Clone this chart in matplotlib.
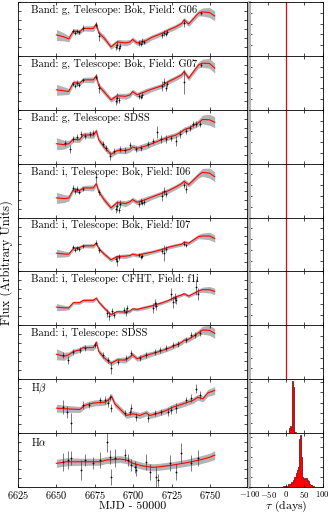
import matplotlib
matplotlib.use("Agg")
import matplotlib.pyplot as plt
from matplotlib.ticker import MultipleLocator, MaxNLocator, NullFormatter

plt.rcParams['font.family'] = ['cmr10', 'DejaVu Serif']
plt.rcParams['mathtext.fontset'] = 'cm'
plt.rcParams['axes.formatter.use_mathtext'] = True

# panel labels
labels = ["Band: g, Telescope: Bok, Field: G06",
          "Band: g, Telescope: Bok, Field: G07",
          "Band: g, Telescope: SDSS",
          "Band: i, Telescope: Bok, Field: I06",
          "Band: i, Telescope: Bok, Field: I07",
          "Band: i, Telescope: CFHT, Field: f1i",
          "Band: i, Telescope: SDSS",
          r"H$\beta$",
          r"H$\alpha$"]

# continuum model (red line + grey band), shared time knots
knot_t = [6650, 6655, 6658, 6661, 6665, 6667.5, 6674, 6676, 6677.5, 6681, 6685.5, 6689.5,
          6695, 6698, 6699.5, 6702.5, 6708, 6712, 6718.5, 6723, 6727.5, 6731.5, 6733,
          6736, 6742.5, 6745, 6749.5, 6753]
knot_sig = [5.5, 4, 3, 2.5, 2.5, 2.5, 3, 2.5, 2.5, 3, 2.5, 2.5, 3, 2.5, 2.5, 2.5, 3, 2.5,
            2.5, 2.5, 2.5, 2.5, 2.5, 2.5, 3, 4, 5, 5]
g06_model = [21, 19, 17, 25, 24, 27.5, 27.5, 32, 23, 18, 9, 14, 13, 14, 16.5, 13, 15, 18.5,
             22.5, 26, 29, 32.5, 36, 32, 43, 44, 43.5, 40]
g07_model = [20, 19, 18.3, 27.3, 26.5, 30, 30, 34, 24, 18, 10, 14, 13.5, 15, 18.3, 15, 18.3,
             20.7, 24, 28.3, 31.7, 35, 38.3, 31.7, 45, 46.7, 46.5, 41.7]
gsdss_model = [20, 19, 20, 24.3, 24, 28.7, 28.7, 32.7, 24, 17, 9.3, 13, 13.3, 14.5, 16.7,
               15.3, 17.7, 20, 24, 26.5, 28.5, 32, 34, 35.5, 41, 44.3, 44, 41.5]
i06_model = [19.7, 19, 19.5, 28, 27, 29.7, 29.7, 34, 26, 18, 9.7, 15, 14, 16, 18, 15.3, 18,
             20.5, 24.2, 27, 30.5, 34, 36.3, 33, 42.5, 45.3, 44.5, 41]
i07_model = [18.3, 17.5, 17.3, 23, 24, 25.7, 25.7, 28.3, 23, 17.5, 11.7, 15, 15.3, 16, 17.3,
             16.3, 18, 19.3, 22, 24.3, 26, 27.3, 29.3, 28.3, 35, 35.5, 35.5, 33]
f1i_model = [18.3, 17.5, 17.5, 22.7, 22.7, 25, 25, 27.3, 23.5, 17.5, 10.7, 13.7, 13.3, 14.5,
             16.5, 16, 18, 19.5, 22.5, 25, 28.5, 30.5, 31.7, 29.3, 34.5, 35.7, 35.7, 34]
isdss_model = [25, 23, 24.5, 27.7, 29.3, 31.7, 31.7, 37, 28, 21.5, 16, 19.3, 19.3, 22.5, 24.5,
               20.5, 23.7, 25.5, 28.5, 31, 34, 37, 39, 40, 46.5, 49.3, 49, 46]
band_scale = [1.0, 1.0, 1.1, 1.0, 0.75, 0.65, 1.0]

# line models
hb_t = [6650, 6656.6, 6665.2, 6668.5, 6671.7, 6675, 6681.5, 6684.7, 6685.8, 6688, 6692.3,
        6695.5, 6699.8, 6704.2, 6708.5, 6710.7, 6715, 6721.5, 6725.8, 6732.3, 6738.8, 6742,
        6745.3, 6748.5, 6753]
hb_model = [25, 24.3, 23.7, 27.7, 29.3, 30.3, 31, 34.3, 37, 29.3, 22.7, 17.7, 19.3, 17.7,
            20.3, 17.7, 19.3, 22.7, 26, 29.3, 32.7, 36, 34.3, 40.3, 42.7]
hb_sig = [4, 3.5, 3, 3, 3, 3, 3, 3, 3, 3, 3, 3, 3, 3, 3, 3, 3, 3, 3, 3, 3, 3, 3, 3.5, 4]
ha_t = [6650, 6656.6, 6667.4, 6678.2, 6682.6, 6691.2, 6695.5, 6699.8, 6706.3, 6712.8,
        6717.2, 6725.8, 6734.5, 6743.1, 6749.6, 6753]
ha_model = [23.7, 25.3, 25.3, 25.3, 27, 28, 27, 23.7, 21, 19.7, 20.3, 22, 24.3, 27, 29.7, 32]
ha_sig = [4, 4, 3.5, 3.5, 3.5, 3.5, 3.5, 3.5, 3.5, 3.5, 3.5, 3.5, 3.5, 4, 4, 4.5]

# observed points: time, flux, error
g06_t = [6661, 6662, 6663.5, 6665, 6667, 6676, 6678, 6688.5, 6689.5, 6690.5, 6691.5, 6704,
         6705, 6706, 6707, 6719, 6720, 6721, 6722, 6733, 6744]
g06_f = [25, 23, 25, 24, 28, 31, 20, 9, 11, 8, 10, 13, 12, 15, 14, 21, 23, 22, 24, 33, 43]
g06_e = [2, 2, 2, 2, 3, 3, 5, 3, 4, 3, 3, 3, 2, 3, 2, 3, 3, 2, 2, 4, 2]

g07_t = [6661, 6662, 6663.5, 6665, 6667, 6676, 6678, 6688.5, 6689.5, 6690.5, 6704, 6705,
         6706, 6719, 6720, 6721, 6722, 6733, 6744]
g07_f = [26, 24, 27, 25, 30, 33, 22, 9, 12, 10, 14, 13, 15, 24, 28, 22, 26, 28, 45]
g07_e = [2, 2, 3, 2, 2, 3, 5, 4, 5, 3, 3, 2, 3, 5, 4, 3, 3, 12, 2]

gsdss_t = [6655.5, 6658.7, 6661, 6663.1, 6666.3, 6668.5, 6671.7, 6673.9, 6680.4, 6682.5,
           6684.7, 6687.3, 6691.2, 6694.4, 6697.7, 6702, 6705.3, 6709.6, 6712.8, 6715.6,
           6718.2, 6721.5, 6724.7, 6728, 6730.1, 6734.5, 6736.6, 6738.8, 6740.9, 6743.1]
gsdss_f = [21, 15, 24.3, 26.7, 29.3, 27.7, 29.3, 31, 19.3, 16, 7.7, 12.7, 14.3, 13.3, 18.7,
           14.3, 16, 19.3, 22.7, 32, 24.3, 25, 26, 22.7, 29.3, 32.7, 36, 39.3, 40, 39.3]
gsdss_e = [3, 4, 3, 3, 3, 3, 3, 3, 3, 3, 4, 3, 3, 3, 3, 3, 3, 3, 3, 6, 4, 4, 3, 5, 4, 3, 3,
           3, 3, 3]

i06_t = [6661, 6662, 6663.5, 6665, 6667, 6676, 6678, 6688.5, 6689.5, 6690.5, 6691.5, 6704,
         6705, 6706, 6707, 6719, 6720, 6721, 6733, 6734.5]
i06_f = [30, 27, 29, 26, 29, 41, 26, 9, 12, 8, 14, 14, 17, 15, 16, 22, 27, 24, 33, 29]
i06_e = [3, 3, 3, 2, 2, 5, 3, 4, 5, 3, 4, 3, 3, 2, 3, 5, 4, 3, 3, 4]

i07_t = [6661, 6662, 6663.5, 6665, 6667, 6676, 6678, 6688.5, 6689.5, 6690.5, 6704, 6705,
         6706, 6719, 6720, 6721, 6733, 6734.5]
i07_f = [24, 21, 23, 22, 25, 29, 21, 12, 10, 14, 16, 14, 15, 20, 18, 22, 28, 26]
i07_e = [2, 2, 2, 2, 2, 3, 3, 3, 5, 3, 2, 2, 2, 3, 8, 3, 3, 2]

f1i_t = [6683, 6684.5, 6686, 6687.3, 6693.8, 6695, 6696, 6712.8, 6713.9, 6715, 6724.7,
         6725.8, 6726.9, 6728, 6740.9, 6742]
f1i_f = [12, 9, 14, 10, 15, 13, 17, 17, 22, 19, 31, 23, 27, 25, 38, 31]
f1i_e = [4, 4, 3, 3, 3, 4, 3, 5, 4, 4, 6, 6, 5, 4, 8, 6]

isdss_t = [6654.4, 6657.7, 6661, 6665.3, 6668.5, 6675, 6680.4, 6683.6, 6685.8, 6690.1,
           6695.5, 6698.8, 6704.2, 6708.5, 6713.9, 6717.2, 6721.5, 6725.8, 6729.1, 6734.5,
           6737.7, 6739.9, 6743.1]
isdss_f = [24.3, 19.3, 27.7, 29.3, 31, 34.3, 24.3, 19.3, 11, 17.7, 21, 26, 21, 24.3, 27.7,
           29.3, 31, 34.3, 35, 39.3, 44.3, 44.3, 46]
isdss_e = [3, 4, 3, 3, 3, 3, 3, 3, 6, 3, 3, 3, 3, 3, 3, 3, 3, 3, 3, 3, 3, 3, 3]

hb_pt = [6654.4, 6656.6, 6659.2, 6667.4, 6671.3, 6678.2, 6681.5, 6683.6, 6684.7, 6685.8,
         6694.4, 6697.7, 6698.7, 6702, 6709.6, 6714, 6718.3, 6722.6, 6724.7, 6728, 6734.5,
         6737.7, 6741, 6743.1]
hb_pf = [26.3, 21.3, 9.7, 28, 28, 33, 33, 29.7, 36.3, 24.7, 19.7, 21.3, 24.7, 16.3, 14.7,
         19.7, 21.3, 21.3, 23, 24.7, 33, 34.7, 44.7, 38]
hb_pe = [7, 6, 10, 4, 3, 3, 4, 4, 3, 4, 3, 3, 4, 4, 4, 3, 3, 4, 4, 5, 3, 4, 5, 4]

ha_pt = [6654.4, 6657.6, 6659.8, 6666.3, 6668.5, 6673.9, 6678.2, 6683, 6684.7, 6685.8,
         6688, 6694.4, 6696.6, 6698.7, 6700.9, 6702, 6708.5, 6710.7, 6715, 6716.1, 6723.7,
         6728, 6731.2, 6737.7, 6742]
ha_pf = [25.3, 27, 28.7, 17, 27, 23.7, 27, 45.3, 30.3, 10.3, 28.7, 32, 27, 22, 20.3, 17,
         25.3, 15.3, 10.3, 7, 23.7, 15.3, 33.7, 23.7, 28.7]
ha_pe = [9, 9, 7, 10, 6, 6, 8, 10, 7, 8, 9, 6, 6, 6, 6, 6, 8, 8, 10, 6, 8, 8, 10, 8, 8]

# lag posteriors
hb_edges = [4, 8, 10, 12, 14, 16, 18, 20, 22, 26, 30]
hb_counts = [0.3, 5, 7, 6, 4, 51, 45, 2, 1, 0.3]
ha_edges = [-30, -10, 0, 6, 12, 18, 22, 26, 30, 33, 36, 38, 40, 42, 44, 47, 50, 53, 56,
            59, 62, 66, 70, 76, 85]
ha_counts = [0.3, 0.6, 1.2, 3, 5, 7, 10, 14, 17, 20, 48, 52, 30, 14, 10, 9, 8, 9, 7, 6, 3,
             2, 1, 0.3]

cont_models = [g06_model, g07_model, gsdss_model, i06_model, i07_model, f1i_model, isdss_model]
cont_points = [(g06_t, g06_f, g06_e), (g07_t, g07_f, g07_e), (gsdss_t, gsdss_f, gsdss_e),
               (i06_t, i06_f, i06_e), (i07_t, i07_f, i07_e), (f1i_t, f1i_f, f1i_e),
               (isdss_t, isdss_f, isdss_e)]

fig = plt.figure(figsize=(3.31, 5.15), dpi=100)
top = 1 - 2 / 515
bottom = 1 - 487 / 515
h = (top - bottom) / 9
lx, lw = 18 / 331, 229 / 331
rx, rw = 249 / 331, 73.5 / 331

for i in range(9):
    y0 = top - (i + 1) * h
    ax = fig.add_axes([lx, y0, lw, h])
    axr = fig.add_axes([rx, y0, rw, h])

    if i < 7:
        model = cont_models[i]
        sig = [s * band_scale[i] for s in knot_sig]
        ax.fill_between(knot_t, [m - s for m, s in zip(model, sig)],
                        [m + s for m, s in zip(model, sig)], color='#b4b4b4', lw=0)
        ax.plot(knot_t, model, color='red', lw=0.8)
        pt, pf, pe = cont_points[i]
        axr.axvline(0, color='red', lw=0.9)
    elif i == 7:
        ax.fill_between(hb_t, [m - s for m, s in zip(hb_model, hb_sig)],
                        [m + s for m, s in zip(hb_model, hb_sig)], color='#b4b4b4', lw=0)
        ax.plot(hb_t, hb_model, color='red', lw=0.8)
        pt, pf, pe = hb_pt, hb_pf, hb_pe
        axr.stairs(hb_counts, hb_edges, fill=True, facecolor='red', edgecolor='#600000', lw=0.5)
        axr.set_ylim(0, 53)
    else:
        ax.fill_between(ha_t, [m - s for m, s in zip(ha_model, ha_sig)],
                        [m + s for m, s in zip(ha_model, ha_sig)], color='#b4b4b4', lw=0)
        ax.plot(ha_t, ha_model, color='red', lw=0.8)
        pt, pf, pe = ha_pt, ha_pf, ha_pe
        axr.stairs(ha_counts, ha_edges, fill=True, facecolor='red', edgecolor='#600000', lw=0.5)
        axr.set_ylim(0, 54)

    ax.errorbar(pt, pf, yerr=pe, fmt='o', ms=1.3, mew=0, color='k', ecolor='#333333',
                elinewidth=0.45, capsize=0.6, capthick=0.45)
    ax.set_xlim(6625, 6774)
    ax.set_ylim(0, 54)
    ax.text(0.055, 0.95, labels[i], transform=ax.transAxes, ha='left', va='top', fontsize=7.6)

    ax.xaxis.set_major_locator(MultipleLocator(25))
    ax.yaxis.set_major_locator(MultipleLocator(9))
    ax.yaxis.set_major_formatter(NullFormatter())
    axr.set_xlim(-103, 100)
    axr.xaxis.set_major_locator(MultipleLocator(50))
    axr.yaxis.set_major_locator(MaxNLocator(6))
    axr.yaxis.set_major_formatter(NullFormatter())
    for a in (ax, axr):
        a.tick_params(direction='in', top=True, right=True, length=2.5, width=0.5,
                      labelsize=7.5, pad=1.2)
        for s in a.spines.values():
            s.set_linewidth(0.6)
    axr.tick_params(labelsize=6.3)
    axr.spines['left'].set_color('#b4b4b4')
    axr.spines['left'].set_linewidth(2.2)
    if i < 8:
        ax.xaxis.set_major_formatter(NullFormatter())
        axr.xaxis.set_major_formatter(NullFormatter())

fig.text(0.017, 0.49, "Flux (Arbitrary Units)", rotation=90, ha='center', va='center', fontsize=9)
fig.text(lx + lw / 2, 0.011, "MJD - 50000", ha='center', va='baseline', fontsize=8.5)
fig.text(rx + rw / 2, 0.011, r"$\tau$ (days)", ha='center', va='baseline', fontsize=8.5)

fig.savefig("out.png", dpi=100)
